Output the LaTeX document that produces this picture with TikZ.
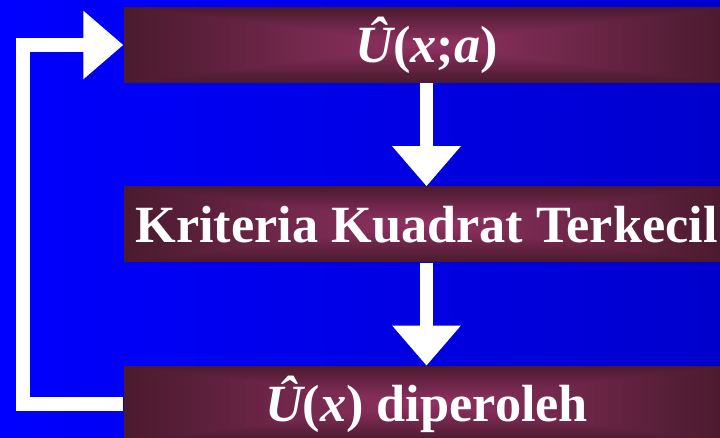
\documentclass[tikz,border=0pt]{standalone}
\usepackage{fontspec}
\setmainfont{Liberation Serif}
\usepackage{xcolor}
\usetikzlibrary{arrows.meta,positioning}
\definecolor{bgleft}{RGB}{0,0,255}
\definecolor{bgright}{RGB}{0,0,205}
\definecolor{boxdark}{RGB}{74,26,46}
\definecolor{boxlight}{RGB}{145,50,98}

\begin{document}
\begin{tikzpicture}[x=1pt, y=1pt,
  every node/.style={font=\fontsize{52.3}{60}\selectfont\bfseries, text=white},
  box/.style={minimum width=606pt, minimum height=76pt, inner sep=0pt,
    text height=36pt, text depth=0pt,
    path picture={
      % rectangular gradient, dark rim to light centre
      \foreach \i in {0,...,39}{
        \pgfmathsetmacro{\f}{1-\i/40}
        \pgfmathsetmacro{\p}{100*\i/39}
        \fill[boxlight!\p!boxdark]
          ([shift={(-303*\f,-38*\f)}]path picture bounding box.center) rectangle
          ([shift={(303*\f,38*\f)}]path picture bounding box.center);
      }}},
  flow/.style={draw=white, line width=13.7pt, line join=miter,
    -{Triangle[width=66pt,length=40pt]}}]
  \clip (0,0) rectangle (720,438);
  \shade[left color=bgleft, right color=bgright] (0,0) rectangle (720,438);
  % the three steps
  \node[box] (model) at (426.5,393) {\itshape Û\upshape(\itshape x\upshape;\itshape a\upshape)};
  \node[box, below=103pt of model] (crit) {Kriteria Kuadrat Terkecil};
  \node[box, below=103pt of crit] (result) {\itshape Û\upshape(\itshape x\upshape) diperoleh};
  \draw[flow] (model) -- (crit);
  \draw[flow] (crit) -- (result);
  % back to the start
  \draw[flow] (result.west) -- ++(-100,0) |- (model.west);
\end{tikzpicture}
\end{document}
